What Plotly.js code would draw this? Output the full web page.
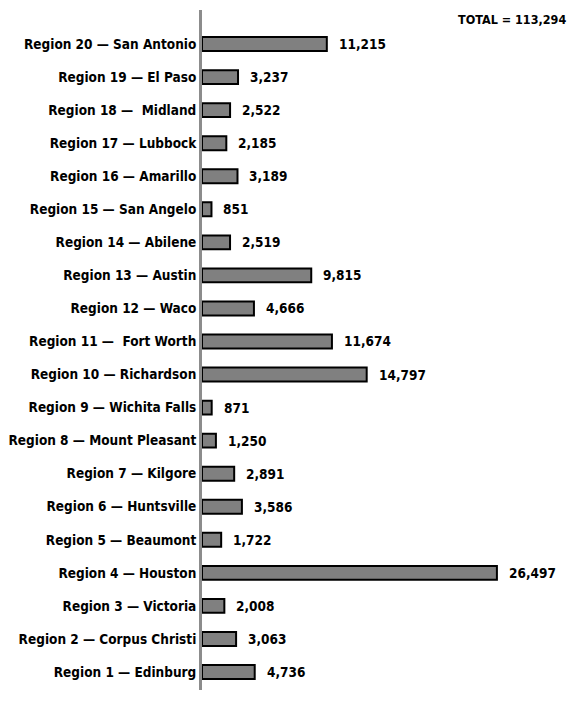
<!DOCTYPE html>
<html><head><meta charset="utf-8">
<script src="https://cdn.plot.ly/plotly-3.0.1.min.js"></script>
<style>html,body{margin:0;padding:0;background:#fff}</style>
</head><body><div id="chart" style="width:574px;height:714px"></div>
<script>
// Bottom to top (Region 1 first)
const regions = [
  "Region 1 — Edinburg",
  "Region 2 — Corpus Christi",
  "Region 3 — Victoria",
  "Region 4 — Houston",
  "Region 5 — Beaumont",
  "Region 6 — Huntsville",
  "Region 7 — Kilgore",
  "Region 8 — Mount Pleasant",
  "Region 9 — Wichita Falls",
  "Region 10 — Richardson",
  "Region 11 —\u00a0 Fort Worth",
  "Region 12 — Waco",
  "Region 13 — Austin",
  "Region 14 — Abilene",
  "Region 15 — San Angelo",
  "Region 16 — Amarillo",
  "Region 17 — Lubbock",
  "Region 18 —\u00a0 Midland",
  "Region 19 — El Paso",
  "Region 20 — San Antonio"
];
const counts = [4736, 3063, 2008, 26497, 1722, 3586, 2891, 1250, 871, 14797,
                11674, 4666, 9815, 2519, 851, 3189, 2185, 2522, 3237, 11215];

const total = counts.reduce((a, b) => a + b, 0);
const fmt = v => v.toLocaleString('en-US');
const FONT = '"DejaVu Sans Condensed", "Liberation Sans Narrow", sans-serif';

const trace = {
  type: 'bar',
  orientation: 'h',
  y: regions,
  x: counts,
  width: 0.42,
  marker: {color: '#808080', line: {color: '#000', width: 2}},
  hoverinfo: 'none'
};

const annotations = counts.map((v, i) => ({
  x: v, y: regions[i], xref: 'x', yref: 'y',
  text: '<b>' + fmt(v) + '</b>', showarrow: false,
  xanchor: 'left', xshift: 10,
  font: {family: FONT, size: 13.5, color: '#000'}
}));
annotations.push({
  x: 1, y: 1, xref: 'paper', yref: 'paper',
  text: '<b>TOTAL = ' + fmt(total) + '</b>', showarrow: false,
  xanchor: 'right', yanchor: 'top', xshift: 8, yshift: 0,
  font: {family: FONT, size: 12.5, color: '#000'}
});

const layout = {
  width: 574, height: 714,
  margin: {l: 202, r: 14, t: 10, b: 24},
  paper_bgcolor: '#fff', plot_bgcolor: '#fff',
  showlegend: false,
  xaxis: {range: [0, 32165], visible: false, fixedrange: true},
  yaxis: {
    type: 'category', range: [-0.545, 20.03],
    showline: true, linecolor: '#8c8c8c', linewidth: 3,
    showgrid: false, zeroline: false, ticks: '',
    ticklabelstandoff: 0,
    tickfont: {family: FONT, size: 13.5, color: '#000', weight: 'bold'},
    fixedrange: true
  },
  annotations: annotations
};

Plotly.newPlot('chart', [trace], layout, {staticPlot: true, displayModeBar: false});
</script></body></html>
